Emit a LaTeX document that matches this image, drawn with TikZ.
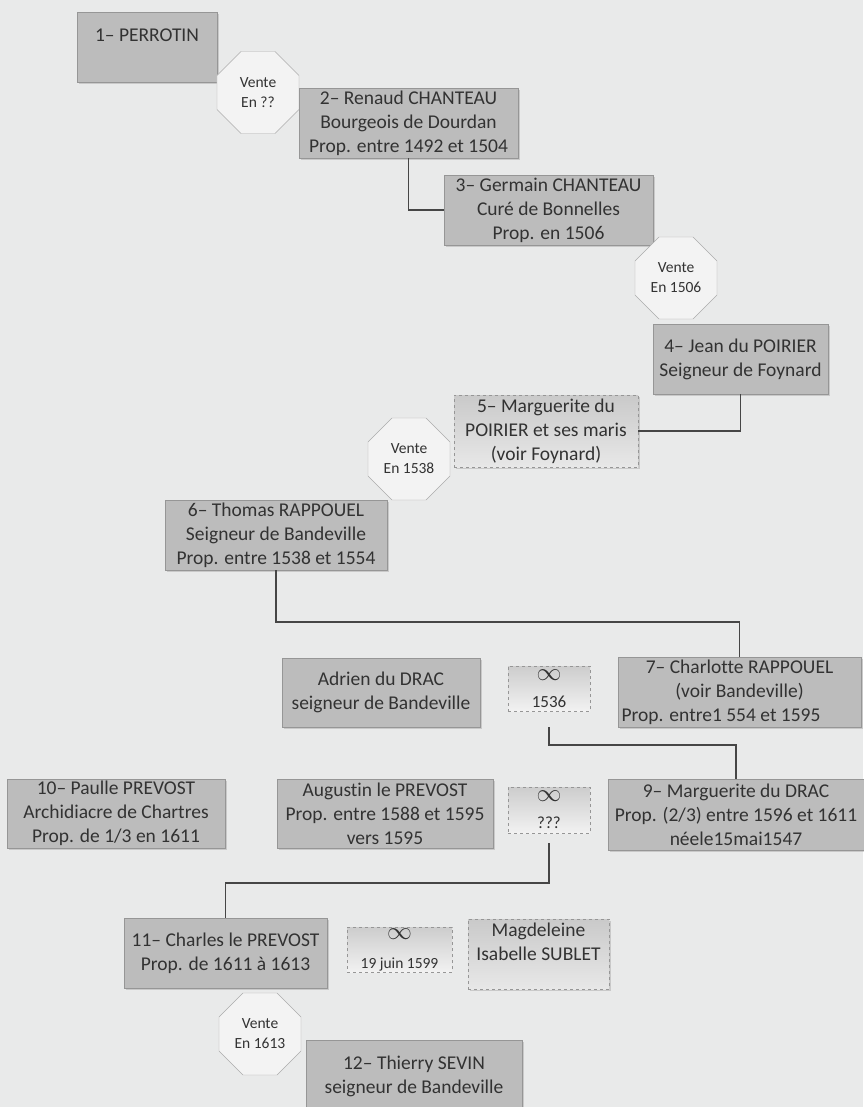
\documentclass[tikz,border=0pt]{standalone}
\usepackage{fontspec}
\setmainfont[Ligatures=NoCommon]{Carlito}
\definecolor{Paper}{RGB}{233,234,234}
\definecolor{BoxGray}{RGB}{188,188,188}
\definecolor{EdgeGray}{RGB}{150,150,150}
\definecolor{InkGray}{RGB}{50,50,50}
\definecolor{LinkGray}{RGB}{70,70,70}
\definecolor{OctFill}{RGB}{243,243,243}
\usepackage{tikz}
\usetikzlibrary{shapes.geometric, shadows}
\newcommand{\signeInfini}{{\fontsize{23}{27}\selectfont$\infty$}}

\begin{document}
\begin{tikzpicture}[x=1pt,y=-1pt,
        pers/.style={draw=EdgeGray,fill=BoxGray,text=InkGray,align=center,inner sep=2pt,
                     font=\fontsize{19.5}{24}\selectfont,
                     drop shadow={shadow xshift=2pt,shadow yshift=-2pt,opacity=0.3}},
        pale/.style={pers,dashed,top color=BoxGray!80,bottom color=BoxGray!35},
        vente/.style={regular polygon,regular polygon sides=8,minimum size=88.8,inner sep=0pt,
                      draw=EdgeGray!80,fill=OctFill,text=InkGray,align=center,
                      font=\fontsize{15.5}{20}\selectfont},
        mariage/.style={draw=EdgeGray,dashed,top color=BoxGray!75,bottom color=BoxGray!20,
                        text=InkGray,align=center,inner sep=1pt,font=\fontsize{17}{27}\selectfont},
        lien/.style={draw=LinkGray,line width=1.5pt}]
  \fill[Paper] (0,0) rectangle (863,1107);
  \useasboundingbox (0,0) rectangle (863,1107);

  \node[pers,minimum width=140,minimum height=70] (r1) at (147,47) {1– PERROTIN\\~};
  \node[vente] (v1) at (258,92.5) {Vente\\En ??};
  \node[pers,minimum width=219,minimum height=70] (r2) at (408.5,123)
    {2– Renaud CHANTEAU\\Bourgeois de Dourdan\\Prop. entre 1492 et 1504};
  \node[pers,minimum width=209,minimum height=70] (r3) at (548.5,210)
    {3– Germain CHANTEAU\\Curé de Bonnelles\\Prop. en 1506};
  \node[vente] (v2) at (676,278) {Vente\\En 1506};
  \node[pers,minimum width=175,minimum height=70] (r4) at (740.5,359)
    {4– Jean du POIRIER\\Seigneur de Foynard};
  \node[pale,minimum width=184,minimum height=72] (r5) at (546,431)
    {5– Marguerite du\\POIRIER et ses maris\\(voir Foynard)};
  \node[vente] (v3) at (409,459) {Vente\\En 1538};
  \node[pers,minimum width=222,minimum height=70] (r6) at (276,535)
    {6– Thomas RAPPOUEL\\Seigneur de Bandeville\\Prop. entre 1538 et 1554};

  \node[pers,minimum width=198,minimum height=69] (adrien) at (381,692.5)
    {Adrien du DRAC\\seigneur de Bandeville};
  \node[mariage,minimum width=82,minimum height=45] (m1) at (549,688.5) {\signeInfini\\1536};
  \node[pers,minimum width=243,minimum height=70] (r7) at (739.5,692)
    {7– Charlotte RAPPOUEL\\(voir Bandeville)\\Prop. entre1 554 et 1595\hspace*{37pt}};

  \node[pers,minimum width=218,minimum height=69] (r10) at (116,813.5)
    {10– Paulle PREVOST\\Archidiacre de Chartres\\Prop. de 1/3 en 1611};
  \node[pers,minimum width=216,minimum height=69] (augustin) at (385,813.5)
    {Augustin le PREVOST\\Prop. entre 1588 et 1595\\vers 1595};
  \node[mariage,minimum width=82,minimum height=46] (m2) at (549,810) {\signeInfini\\???};
  \node[pers,minimum width=256,minimum height=71] (r9) at (736,814.5)
    {9– Marguerite du DRAC\\Prop. (2/3) entre 1596 et 1611\\néele15mai1547};

  \node[pers,minimum width=203,minimum height=70] (r11) at (225.5,953)
    {11– Charles le PREVOST\\Prop. de 1611 à 1613};
  \node[mariage,minimum width=105,minimum height=45,font=\fontsize{15.5}{29}\selectfont] (m3)
    at (399.5,949.5) {\signeInfini\\19 juin 1599};
  \node[pale,minimum width=141,minimum height=70] (magdeleine) at (538.5,954)
    {Magdeleine\\Isabelle SUBLET\\~};
  \node[vente] (v4) at (260,1034) {Vente\\En 1613};
  \node[pers,minimum width=216,minimum height=72] (r12) at (414,1076)
    {12– Thierry SEVIN\\seigneur de Bandeville};

  \draw[lien] (r2.south) |- (r3.west);
  \draw[lien] (r4.south) |- (r5.east);
  \draw[lien] (r6.south) -- ++(0,52) -| (r7.north);
  \draw[lien,shorten <=16pt] (m1.south) -- ++(0,34) -| (r9.north);
  \draw[lien,shorten <=10pt] (m2.south) -- ++(0,50) -| (r11.north);
\end{tikzpicture}
\end{document}
